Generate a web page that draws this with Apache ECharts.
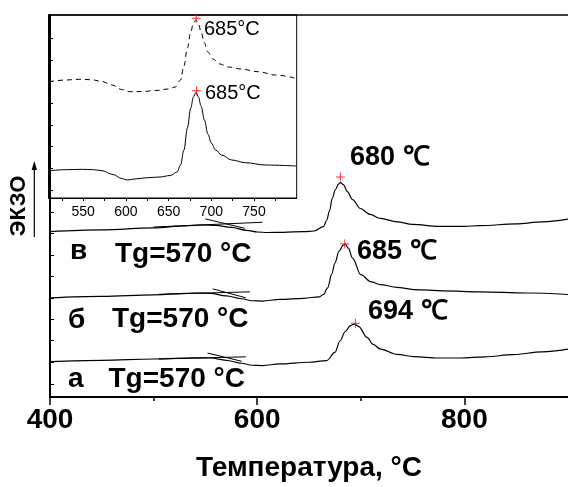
<!DOCTYPE html>
<html><head><meta charset="utf-8">
<script src="https://cdn.jsdelivr.net/npm/echarts@6/dist/echarts.min.js"></script>
<style>html,body{margin:0;padding:0;background:#fff}#c{width:568px;height:487px}</style>
</head><body><div id="c"></div>
<script>
// ---------- DATA ----------
// main plot: temperature (°C) vs. DTA signal (arbitrary units)
const curveV = [[400,166.7],[450,168.5],[500,170.5],[530,172.5],[548,173.5],[560,173],[575,171],[590,168],[600,166.3],[610,165.8],[625,166],[645,166.7],[655,167.3],[664,171.7],[667,178],[670,188],[672.3,200],[675.5,209],[678.4,214.5],[680.3,216],[683.2,214],[687,207],[692,199],[699.6,190],[709,184],[719,180],[735,176.5],[750,174],[775,172],[800,172],[815,172.7],[850,174.5],[875,176.5],[900,179.3]];
const curveB = [[400,100],[450,101.5],[500,103],[540,104.7],[555,104.5],[570,102],[585,99],[595,97],[605,96.7],[622,98.3],[645,99.5],[660,101],[664,103.3],[668,110],[672,124],[675,135],[679,147],[683,153],[685,154],[688,150],[692,140],[700,123.3],[710,116],[719,113.3],[735,110.5],[751,108.3],[780,107],[815,106],[860,104.8],[900,103.3]];
const curveA = [[400,35.7],[450,37],[500,38.3],[540,39.5],[555,39.3],[570,37],[585,34],[595,32],[605,31.7],[622,33.3],[650,35],[667,36.7],[675,45],[680,56.7],[685,66],[690,72],[694,73.5],[698,71],[706,60],[712,53],[719,48.3],[735,43],[751,40.7],[775,39.3],[796,39.3],[820,40.5],[847,42.7],[875,45.5],[900,48.3]];
// Tg tangent construction lines
const tangentV1 = [[500,171.3],[605,176.1]];
const tangentV2 = [[550,179.5],[588,170]];
const tangentB1 = [[505,103.5],[593,106]];
const tangentB2 = [[557,109],[589,100]];
const tangentA1 = [[505,38.3],[589,40.5]];
const tangentA2 = [[552,44.3],[585,36]];
// peak markers (red +)
const peakMarks = [[680.3,221.7],[684.5,154.3],[694.8,74.3]];
const peakLabels = ['680 ℃','685 ℃','694 ℃'];
const sampleLetters = ['в','б','а'];
const tgLabel = 'Tg=570 °C';
// main axis ticks
const xLabels = [400,600,800];
const xMinorTicks = [500,700];
const yTicks = [13,35,56.7,78.3,100,121.7,143.3,165,186.7];

// inset
const insetDashed = [[510,116.3],[530,118],[545,118.7],[560,118.3],[572,116.5],[584,113],[595,108.5],[604,106.3],[620,106.5],[635,107.5],[650,109],[658,111],[664,118],[668,132],[672,150],[676,166],[679,175],[682,178],[685,174],[688,166],[692,155],[696,146],[702,139],[710,134],[720,131],[735,129],[755,126.3],[775,123],[799,119.7]];
const insetSolid = [[510,27.3],[530,28.3],[549,28.7],[562,28.3],[572,27.3],[585,23.5],[595,19.5],[602,18],[612,19.2],[625,20.3],[640,21],[652,22.5],[660,26],[664,33],[668,48],[672,70],[676,90],[679,101],[682,105.5],[685,101],[688,92],[692,78],[696,64],[700,55],[705,48],[712,43],[724,38],[740,35.3],[763,33],[799,32]];
const insetMarks = [[682.3,179.7],[682.8,107.3]];
const insetLabel = '685°C';
const insetXLabels = [550,600,650,700,750];
const insetXTicks = [525,550,575,600,625,650,675,700,725,750,775];
const insetYTicks = [8,29.7,51.3,73,94.7,116.3,138,159.7];
const insetYMinor = [18.8,40.5,62.2,83.8,105.5,127.2,148.8,170.5];

// ---------- CHART ----------
const F = '"Liberation Sans", Arial, sans-serif';
const chart = echarts.init(document.getElementById('c'));
const plus = 'path://M0,-5L0,5M-5,0L5,0';
function line(data, xi, yi, extra) {
  return Object.assign({type:'line', data, xAxisIndex:xi, yAxisIndex:yi, showSymbol:false, symbol:'none',
    smooth:0.35, smoothMonotone:'x', lineStyle:{color:'#000', width:1.2}, clip:false, silent:true}, extra||{});
}
function tline(data) {
  return {type:'line', data, xAxisIndex:0, yAxisIndex:0, symbol:'none', lineStyle:{color:'#000', width:1}, silent:true};
}
const graphics = [];
// peak labels
const peakLabelPos = [[350,157.5],[357,251.7],[368,311.7]];
peakLabels.forEach((t,i)=>graphics.push({type:'text', x:peakLabelPos[i][0], y:peakLabelPos[i][1],
  style:{text:t, font:'bold 27px '+F, fill:'#000', align:'left', verticalAlign:'middle', textAlign:'left', textVerticalAlign:'middle'}}));
const letterPos = [[70,251.7],[68,320],[68,379]];
const tgPos = [[115,254.5],[112,319],[108.5,379]];
sampleLetters.forEach((t,i)=>{
  graphics.push({type:'text', x:letterPos[i][0], y:letterPos[i][1],
    style:{text:t, font:'bold 28px '+F, fill:'#000', align:'left', verticalAlign:'middle', textAlign:'left', textVerticalAlign:'middle'}});
  graphics.push({type:'text', x:tgPos[i][0], y:tgPos[i][1],
    style:{text:tgLabel, font:'bold 28px '+F, fill:'#000', align:'left', verticalAlign:'middle', textAlign:'left', textVerticalAlign:'middle'}});
});
// inset labels
[[204,29.5],[205,93.5]].forEach(p=>graphics.push({type:'text', x:p[0], y:p[1],
  style:{text:insetLabel, font:'20px '+F, fill:'#000', align:'left', verticalAlign:'middle', textAlign:'left', textVerticalAlign:'middle'}}));
// arrow beside the y-axis name
graphics.push({type:'line', shape:{x1:34.3,y1:237,x2:34.3,y2:168}, style:{stroke:'#000', lineWidth:1.2}});
graphics.push({type:'polygon', shape:{points:[[34.3,161],[31.6,170],[37,170]]}, style:{fill:'#000'}});

chart.setOption({
  animation:false,
  backgroundColor:'#fff',
  grid:[
    {left:49, top:15, right:0, bottom:87},
    {left:49, top:15, width:247.7, height:183, show:true, borderColor:'#000', borderWidth:1, backgroundColor:'transparent'}
  ],
  xAxis:[
    {gridIndex:0, type:'value', min:400, max:900, position:'bottom', z:3,
      axisLine:{lineStyle:{color:'#000', width:2}},
      axisTick:{customValues:xLabels, length:8, lineStyle:{color:'#000', width:1.5}},
      axisLabel:{customValues:xLabels, fontFamily:F, fontSize:28, fontWeight:'bold', color:'#000', margin:9},
      splitLine:{show:false},
      name:'Температура, °С', nameLocation:'middle', nameGap:57,
      nameTextStyle:{fontFamily:F, fontSize:28, fontWeight:'bold', color:'#000'}},
    {gridIndex:0, type:'value', min:400, max:900, position:'bottom', z:3,
      axisLine:{show:false},
      axisTick:{customValues:xMinorTicks, length:4, lineStyle:{color:'#000', width:1.5}},
      axisLabel:{show:false}, splitLine:{show:false}},
    {gridIndex:0, type:'value', min:400, max:900, position:'top', z:3,
      axisLine:{lineStyle:{color:'#000', width:1.5}}, axisTick:{show:false}, axisLabel:{show:false}, splitLine:{show:false}},
    {gridIndex:1, type:'value', min:510, max:800, position:'bottom',
      axisLine:{lineStyle:{color:'#000', width:1}},
      axisTick:{customValues:insetXTicks, length:3, lineStyle:{color:'#000', width:1}},
      axisLabel:{customValues:insetXLabels, fontFamily:F, fontSize:14, color:'#000', margin:7},
      splitLine:{show:false}}
  ],
  yAxis:[
    {gridIndex:0, type:'value', min:0, max:385, position:'left', z:3,
      axisLine:{lineStyle:{color:'#000', width:2}},
      axisTick:{customValues:yTicks, inside:true, length:4, lineStyle:{color:'#000', width:1}},
      axisLabel:{show:false}, splitLine:{show:false},
      name:'ЭКЗО', nameLocation:'middle', nameRotate:90, nameGap:20,
      nameTextStyle:{fontFamily:F, fontSize:22, fontWeight:'bold', color:'#000'}},
    {gridIndex:1, type:'value', min:0, max:183, position:'left',
      axisLine:{lineStyle:{color:'#000', width:2}},
      axisTick:{customValues:insetYTicks, inside:true, length:4, lineStyle:{color:'#000', width:1}},
      axisLabel:{show:false}, splitLine:{show:false}},
    {gridIndex:1, type:'value', min:0, max:183, position:'left',
      axisLine:{show:false},
      axisTick:{customValues:insetYMinor, inside:true, length:2, lineStyle:{color:'#000', width:1}},
      axisLabel:{show:false}, splitLine:{show:false}}
  ],
  series:[
    line(curveV,0,0), line(curveB,0,0), line(curveA,0,0),
    tline(tangentV1), tline(tangentV2), tline(tangentB1), tline(tangentB2), tline(tangentA1), tline(tangentA2),
    {type:'scatter', data:peakMarks, xAxisIndex:0, yAxisIndex:0, symbol:plus, symbolSize:9,
      itemStyle:{color:'none', borderColor:'#f00', borderWidth:1}, silent:true, z:4},
    line(insetDashed,3,1,{lineStyle:{color:'#000', width:1, type:[5,4]}}),
    line(insetSolid,3,1,{lineStyle:{color:'#000', width:1}}),
    {type:'scatter', data:insetMarks, xAxisIndex:3, yAxisIndex:1, symbol:plus, symbolSize:9,
      itemStyle:{color:'none', borderColor:'#f00', borderWidth:1}, silent:true, z:4}
  ],
  graphic:graphics
});
</script></body></html>
